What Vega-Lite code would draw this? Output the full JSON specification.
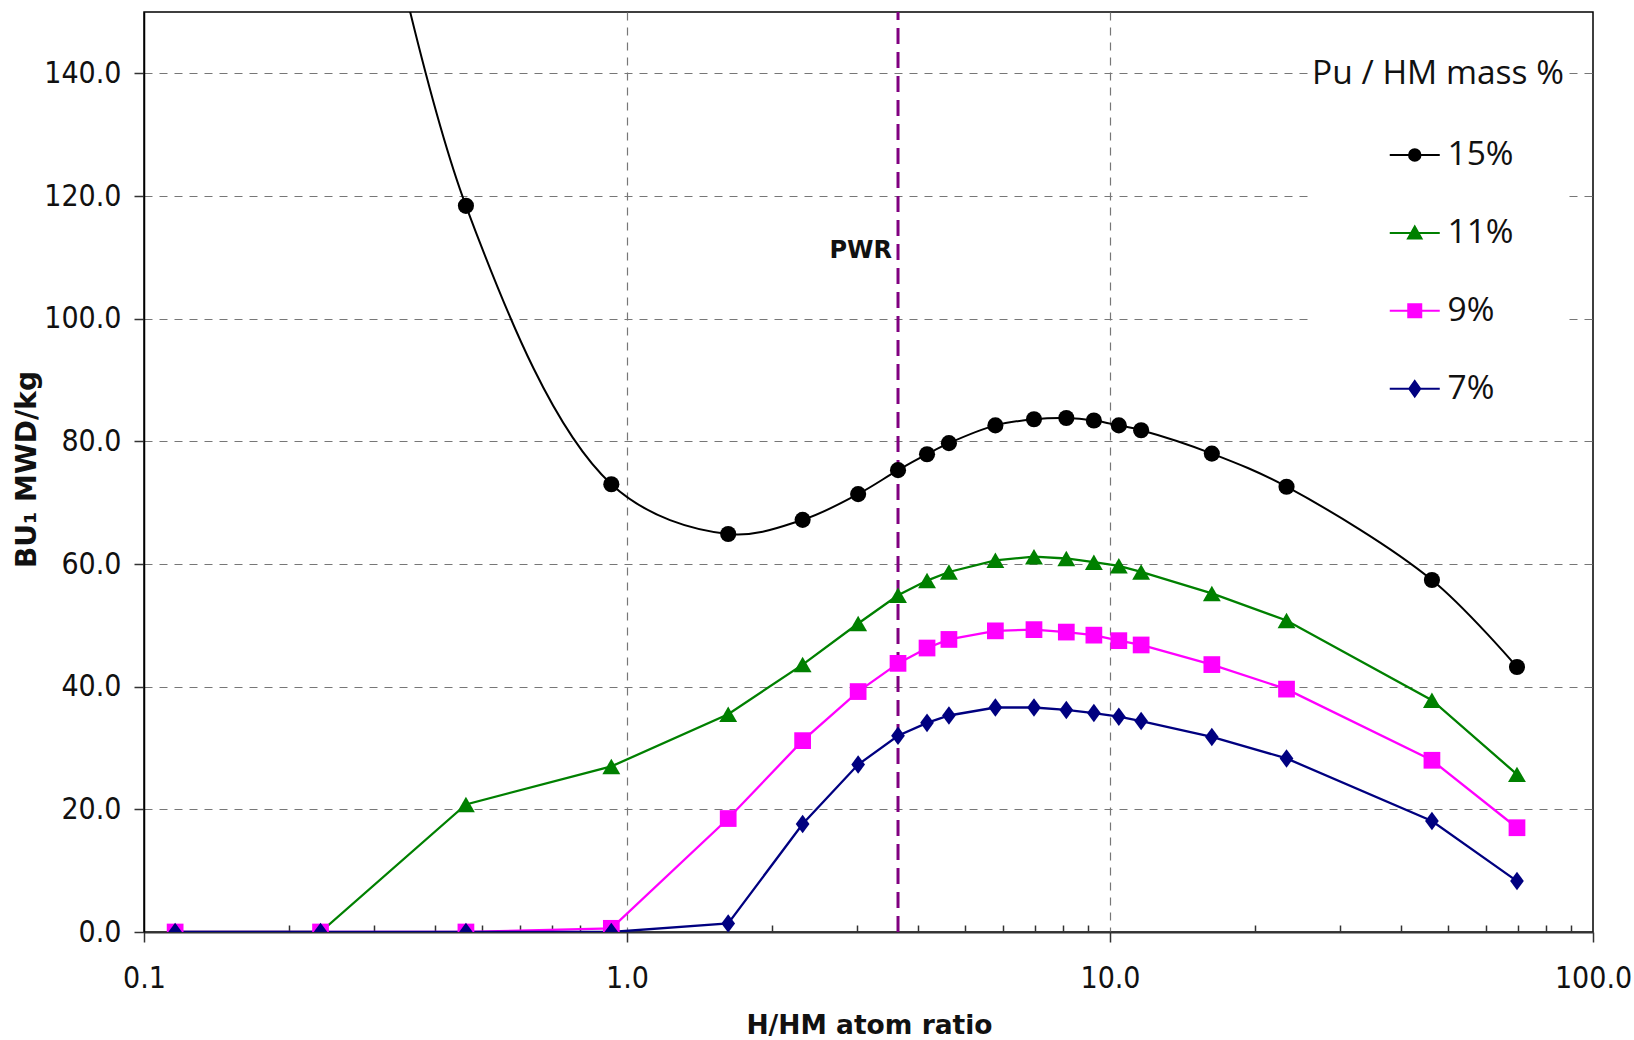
{
  "$schema": "https://vega.github.io/schema/vega-lite/v6.json",
  "width": 1449,
  "height": 920,
  "autosize": {"type": "none"},
  "padding": {"left": 144, "top": 12, "right": 41, "bottom": 108},
  "background": "white",
  "config": {"view": {"stroke": "#000000", "strokeWidth": 1.5}},
  "datasets": {
    "bu": [
      {"pu": "15%", "h": 0.232, "bu": 218},
      {"pu": "15%", "h": 0.464, "bu": 118.4},
      {"pu": "15%", "h": 0.928, "bu": 73.0},
      {"pu": "15%", "h": 1.62, "bu": 64.9},
      {"pu": "15%", "h": 2.31, "bu": 67.2},
      {"pu": "15%", "h": 3.01, "bu": 71.4},
      {"pu": "15%", "h": 3.64, "bu": 75.3},
      {"pu": "15%", "h": 4.18, "bu": 77.9},
      {"pu": "15%", "h": 4.64, "bu": 79.7},
      {"pu": "15%", "h": 5.79, "bu": 82.6},
      {"pu": "15%", "h": 6.96, "bu": 83.6},
      {"pu": "15%", "h": 8.12, "bu": 83.8},
      {"pu": "15%", "h": 9.26, "bu": 83.4},
      {"pu": "15%", "h": 10.43, "bu": 82.6},
      {"pu": "15%", "h": 11.6, "bu": 81.8},
      {"pu": "15%", "h": 16.25, "bu": 78.0},
      {"pu": "15%", "h": 23.2, "bu": 72.6},
      {"pu": "15%", "h": 46.4, "bu": 57.4},
      {"pu": "15%", "h": 69.6, "bu": 43.2},
      {"pu": "11%", "h": 0.116, "bu": 0},
      {"pu": "11%", "h": 0.232, "bu": 0},
      {"pu": "11%", "h": 0.464, "bu": 20.8},
      {"pu": "11%", "h": 0.928, "bu": 27.0},
      {"pu": "11%", "h": 1.62, "bu": 35.5},
      {"pu": "11%", "h": 2.31, "bu": 43.6},
      {"pu": "11%", "h": 3.01, "bu": 50.3},
      {"pu": "11%", "h": 3.64, "bu": 54.9},
      {"pu": "11%", "h": 4.18, "bu": 57.3},
      {"pu": "11%", "h": 4.64, "bu": 58.7},
      {"pu": "11%", "h": 5.79, "bu": 60.6},
      {"pu": "11%", "h": 6.96, "bu": 61.2},
      {"pu": "11%", "h": 8.12, "bu": 60.9},
      {"pu": "11%", "h": 9.26, "bu": 60.3},
      {"pu": "11%", "h": 10.43, "bu": 59.7},
      {"pu": "11%", "h": 11.6, "bu": 58.7},
      {"pu": "11%", "h": 16.25, "bu": 55.2},
      {"pu": "11%", "h": 23.2, "bu": 50.8},
      {"pu": "11%", "h": 46.4, "bu": 37.8},
      {"pu": "11%", "h": 69.6, "bu": 25.7},
      {"pu": "9%", "h": 0.116, "bu": 0},
      {"pu": "9%", "h": 0.232, "bu": 0},
      {"pu": "9%", "h": 0.464, "bu": 0},
      {"pu": "9%", "h": 0.928, "bu": 0.6},
      {"pu": "9%", "h": 1.62, "bu": 18.5},
      {"pu": "9%", "h": 2.31, "bu": 31.2},
      {"pu": "9%", "h": 3.01, "bu": 39.2},
      {"pu": "9%", "h": 3.64, "bu": 43.8},
      {"pu": "9%", "h": 4.18, "bu": 46.3},
      {"pu": "9%", "h": 4.64, "bu": 47.7},
      {"pu": "9%", "h": 5.79, "bu": 49.1},
      {"pu": "9%", "h": 6.96, "bu": 49.3},
      {"pu": "9%", "h": 8.12, "bu": 48.9},
      {"pu": "9%", "h": 9.26, "bu": 48.4},
      {"pu": "9%", "h": 10.43, "bu": 47.5},
      {"pu": "9%", "h": 11.6, "bu": 46.8},
      {"pu": "9%", "h": 16.25, "bu": 43.6},
      {"pu": "9%", "h": 23.2, "bu": 39.6},
      {"pu": "9%", "h": 46.4, "bu": 28.0},
      {"pu": "9%", "h": 69.6, "bu": 17.0},
      {"pu": "7%", "h": 0.116, "bu": 0},
      {"pu": "7%", "h": 0.232, "bu": 0},
      {"pu": "7%", "h": 0.464, "bu": 0},
      {"pu": "7%", "h": 0.928, "bu": 0},
      {"pu": "7%", "h": 1.62, "bu": 1.4},
      {"pu": "7%", "h": 2.31, "bu": 17.6},
      {"pu": "7%", "h": 3.01, "bu": 27.3},
      {"pu": "7%", "h": 3.64, "bu": 32.0},
      {"pu": "7%", "h": 4.18, "bu": 34.1},
      {"pu": "7%", "h": 4.64, "bu": 35.3},
      {"pu": "7%", "h": 5.79, "bu": 36.6},
      {"pu": "7%", "h": 6.96, "bu": 36.6},
      {"pu": "7%", "h": 8.12, "bu": 36.2},
      {"pu": "7%", "h": 9.26, "bu": 35.7},
      {"pu": "7%", "h": 10.43, "bu": 35.1},
      {"pu": "7%", "h": 11.6, "bu": 34.4},
      {"pu": "7%", "h": 16.25, "bu": 31.8},
      {"pu": "7%", "h": 23.2, "bu": 28.3},
      {"pu": "7%", "h": 46.4, "bu": 18.1},
      {"pu": "7%", "h": 69.6, "bu": 8.3}
    ],
    "pwr": [{"h": 3.64, "bu": 111, "label": "PWR"}]
  },
  "encoding": {
    "x": {
      "field": "h",
      "type": "quantitative",
      "scale": {"type": "log", "domain": [0.1, 100], "nice": false},
      "axis": {
        "title": "H/HM atom ratio",
        "values": [0.1, 0.2, 0.3, 0.4, 0.5, 0.6, 0.7, 0.8, 0.9, 1, 2, 3, 4, 5, 6, 7, 8, 9, 10, 20, 30, 40, 50, 60, 70, 80, 90, 100],
        "labelExpr": "datum.value == 0.1 ? '0.1' : (datum.value == 1 || datum.value == 10 || datum.value == 100) ? format(datum.value, '.1f') : ''",
        "labelOverlap": false,
        "labelFlush": false,
        "labelFont": "Liberation Sans Narrow, DejaVu Sans Condensed, sans-serif",
        "labelFontSize": 30,
        "labelColor": "#111111",
        "labelPadding": 21,
        "tickSize": {"condition": {"test": "datum.value == 0.1 || datum.value == 1 || datum.value == 10 || datum.value == 100", "value": 10}, "value": -7},
        "tickColor": "#333333",
        "tickWidth": 1.5,
        "domainColor": "#333333",
        "domainWidth": 2,
        "grid": true,
        "gridOpacity": {"condition": {"test": "datum.value == 1 || datum.value == 10", "value": 1}, "value": 0},
        "gridColor": "#777777",
        "gridWidth": 1.2,
        "gridDash": [8, 7],
        "titleFont": "DejaVu Sans",
        "titleFontWeight": "bold",
        "titleFontSize": 26.5,
        "titleColor": "#111111",
        "titleX": 725,
        "titleY": 101,
        "titleBaseline": "alphabetic",
        "titleAlign": "center"
      }
    },
    "y": {
      "field": "bu",
      "type": "quantitative",
      "scale": {"domain": [0, 150], "nice": false, "zero": true},
      "axis": {
        "title": "BU₁ MWD/kg",
        "values": [0, 20, 40, 60, 80, 100, 120, 140],
        "format": ".1f",
        "labelFont": "Liberation Sans Narrow, DejaVu Sans Condensed, sans-serif",
        "labelFontSize": 30,
        "labelColor": "#111111",
        "labelPadding": 13,
        "tickSize": 10,
        "tickColor": "#333333",
        "tickWidth": 1.5,
        "domainColor": "#000000",
        "domainWidth": 1.5,
        "grid": true,
        "gridColor": "#777777",
        "gridWidth": 1.2,
        "gridDash": [8, 7],
        "titleFont": "DejaVu Sans",
        "titleFontWeight": "bold",
        "titleFontSize": 28,
        "titleColor": "#111111",
        "titleAngle": -90,
        "titleX": -117,
        "titleY": 457,
        "titleAlign": "center",
        "titleBaseline": "middle"
      }
    },
    "color": {
      "field": "pu",
      "type": "nominal",
      "scale": {"domain": ["15%", "11%", "9%", "7%"], "range": ["#000000", "#008000", "#FF00FF", "#000080"]},
      "legend": {
        "title": "Pu / HM mass %",
        "orient": "none",
        "legendX": 1168,
        "legendY": 46,
        "padding": 0,
        "fillColor": "white",
        "titleFont": "Open Sans",
        "titleFontSize": 33.5,
        "titleFontWeight": "normal",
        "titleColor": "#111111",
        "titlePadding": 46.8,
        "titleLimit": 500,
        "labelFont": "Open Sans",
        "labelFontSize": 33.5,
        "labelColor": "#111111",
        "labelLimit": 300,
        "rowPadding": 42.9,
        "symbolSize": 100,
        "symbolOffset": 86,
        "labelOffset": 16,
        "symbolStrokeWidth": 2,
        "symbolOpacity": 1,
        "encoding": {
          "symbols": {
            "shape": {
              "condition": [
                {"test": "datum.value === '15%'", "value": "M-5,0H5M1.15,0A1.15,1.15,0,1,1,-1.15,0A1.15,1.15,0,1,1,1.15,0Z"},
                {"test": "datum.value === '11%'", "value": "M-5,0H5M0,-1.3L1.35,1.1L-1.35,1.1Z"},
                {"test": "datum.value === '9%'", "value": "M-5,0H5M-1.3,-1.3H1.3V1.3H-1.3Z"}
              ],
              "value": "M-5,0H5M0,-1.55L1.1,0L0,1.55L-1.1,0Z"
            },
            "fill": {
              "condition": [
                {"test": "datum.value === '15%'", "value": "#000000"},
                {"test": "datum.value === '11%'", "value": "#008000"},
                {"test": "datum.value === '9%'", "value": "#FF00FF"}
              ],
              "value": "#000080"
            },
            "stroke": {
              "condition": [
                {"test": "datum.value === '15%'", "value": "#000000"},
                {"test": "datum.value === '11%'", "value": "#008000"},
                {"test": "datum.value === '9%'", "value": "#FF00FF"}
              ],
              "value": "#000080"
            },
            "strokeWidth": {"value": 2}
          }
        }
      }
    }
  },
  "layer": [
    {
      "data": {"name": "pwr"},
      "mark": {"type": "rule", "color": "#800080", "strokeWidth": 3, "strokeDash": [16, 8]},
      "encoding": {
        "y": {"datum": 0, "type": "quantitative"},
        "y2": {"datum": 150},
        "color": null
      }
    },
    {
      "data": {"name": "pwr"},
      "mark": {"type": "text", "align": "right", "baseline": "middle", "dx": -6, "font": "DejaVu Sans", "fontWeight": "bold", "fontSize": 24, "color": "#111111"},
      "encoding": {"text": {"field": "label"}, "color": null}
    },
    {
      "data": {"name": "bu"},
      "transform": [{"filter": "datum.pu === '15%'"}],
      "mark": {"type": "line", "interpolate": "catmull-rom", "clip": true, "strokeWidth": 2}
    },
    {
      "data": {"name": "bu"},
      "transform": [{"filter": "datum.pu !== '15%'"}],
      "mark": {"type": "line", "clip": true, "strokeWidth": 2.3}
    },
    {
      "data": {"name": "bu"},
      "mark": {
        "type": "point",
        "filled": true,
        "opacity": 1,
        "clip": true,
        "shape": {"expr": "datum.pu === '15%' ? 'circle' : datum.pu === '11%' ? 'triangle-up' : datum.pu === '9%' ? 'square' : 'M0,-1.15L0.85,0L0,1.15L-0.85,0Z'"},
        "size": {"expr": "datum.pu === '15%' ? 260 : datum.pu === '11%' ? 320 : datum.pu === '9%' ? 280 : 260"}
      }
    }
  ]
}
